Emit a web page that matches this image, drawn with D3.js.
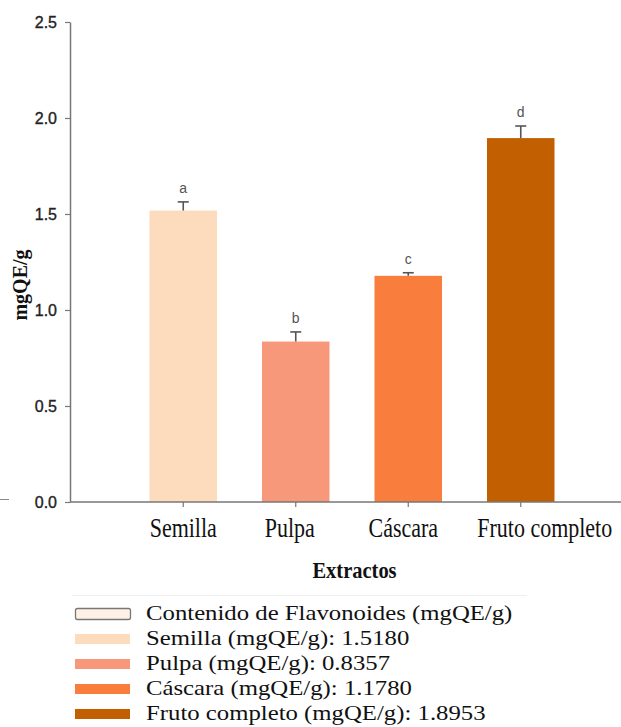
<!DOCTYPE html>
<html>
<head>
<meta charset="utf-8">
<script src="https://cdn.jsdelivr.net/npm/d3@7"></script>
<style>
  html, body { margin: 0; padding: 0; background: #fff; }
  svg { display: block; }
</style>
</head>
<body>
<div id="chart"></div>
<script>
const categories = ["Semilla", "Pulpa", "Cáscara", "Fruto completo"];
const values = [1.5180, 0.8357, 1.1780, 1.8953];
const errors = [0.045, 0.05, 0.016, 0.063];
const letters = ["a", "b", "c", "d"];
const colors = ["#FDDCBD", "#F8987B", "#F97D3C", "#C15F01"];
const yTicks = [0, 0.5, 1.0, 1.5, 2.0, 2.5];
const yLabel = "mgQE/g";
const xLabel = "Extractos";
const legendTitle = "Contenido de Flavonoides (mgQE/g)";
const legendLabels = categories.map((c, i) => `${c} (mgQE/g): ${values[i].toFixed(4)}`);

const W = 621, H = 727;
const svg = d3.select("#chart").append("svg").attr("width", W).attr("height", H);

const y = d3.scaleLinear().domain([0, 2.5]).range([502, 22]);
const x = d3.scaleBand().domain(categories).range([127, 577]).paddingInner(0.4).paddingOuter(0.2);

const data = categories.map((c, i) => ({ c, v: values[i], e: errors[i], l: letters[i], col: colors[i] }));

// stray mark at left
svg.append("line").attr("x1", 0).attr("x2", 9).attr("y1", 499.5).attr("y2", 499.5)
  .attr("stroke", "#888").attr("stroke-width", 1);

// bars
svg.append("g").selectAll("rect").data(data).join("rect")
  .attr("x", d => x(d.c)).attr("width", x.bandwidth())
  .attr("y", d => y(d.v)).attr("height", d => y(0) - y(d.v))
  .attr("fill", d => d.col);

// error bars
const eb = svg.append("g").attr("stroke", "#555").attr("stroke-width", 1.6);
data.forEach(d => {
  const cx = x(d.c) + x.bandwidth() / 2;
  eb.append("line").attr("x1", cx).attr("x2", cx).attr("y1", y(d.v)).attr("y2", y(d.v + d.e));
  eb.append("line").attr("x1", cx - 5.5).attr("x2", cx + 5.5).attr("y1", y(d.v + d.e)).attr("y2", y(d.v + d.e));
});

// letters
svg.append("g").selectAll("text").data(data).join("text")
  .attr("x", d => x(d.c) + x.bandwidth() / 2)
  .attr("y", d => y(d.v + d.e) - 9)
  .attr("text-anchor", "middle")
  .attr("font-family", "Liberation Sans, Arial, sans-serif")
  .attr("font-size", 14)
  .attr("fill", "#555")
  .text(d => d.l);

// y axis
const yAxis = svg.append("g").attr("transform", "translate(70,0)")
  .call(d3.axisLeft(y).tickValues(yTicks).tickFormat(d3.format(".1f")).tickSize(5).tickSizeOuter(0).tickPadding(8));
yAxis.select(".domain").attr("stroke", "#777").attr("stroke-width", 1.5);
yAxis.selectAll(".tick line").attr("stroke", "#777").attr("stroke-width", 1.2);
yAxis.selectAll(".tick text")
  .style("font-family", "Liberation Sans, Arial, sans-serif")
  .style("font-size", "16px")
  .attr("fill", "#222").attr("stroke", "#222").attr("stroke-width", 0.35);

// x axis
svg.append("line").attr("x1", 70).attr("x2", W).attr("y1", 502).attr("y2", 502)
  .attr("stroke", "#777").attr("stroke-width", 1.5);
const xAxis = svg.append("g").attr("transform", "translate(0,502)")
  .call(d3.axisBottom(x).tickSize(5).tickSizeOuter(0).tickFormat(""));
xAxis.select(".domain").remove();
xAxis.selectAll(".tick line").attr("stroke", "#777").attr("stroke-width", 1.2);

// x category labels (nudged as in the original figure)
const labelDx = [0, -6, -5, 24];
svg.append("g").selectAll("text").data(categories).join("text")
  .attr("transform", (d, i) => `translate(${x(d) + x.bandwidth() / 2 + labelDx[i]},537) scale(1,1.2)`)
  .attr("text-anchor", "middle")
  .attr("font-family", "Liberation Serif, Times New Roman, serif")
  .attr("font-size", 22)
  .attr("fill", "#111")
  .text(d => d);

// x title
svg.append("text")
  .attr("transform", "translate(354.5,578) scale(1,1.15)")
  .attr("text-anchor", "middle")
  .attr("font-family", "Liberation Serif, Times New Roman, serif")
  .attr("font-weight", "bold")
  .attr("font-size", 20.5)
  .attr("fill", "#111")
  .text(xLabel);

// y title
svg.append("text")
  .attr("transform", "translate(27,285) rotate(-90)")
  .attr("text-anchor", "middle")
  .attr("font-family", "Liberation Serif, Times New Roman, serif")
  .attr("font-weight", "bold")
  .attr("font-size", 20)
  .attr("fill", "#111")
  .text(yLabel);

// legend
svg.append("line").attr("x1", 72).attr("x2", 527).attr("y1", 595.5).attr("y2", 595.5)
  .attr("stroke", "#eee").attr("stroke-width", 1);

const legendItems = [{ t: legendTitle, col: "#FDF0E4", outline: true }]
  .concat(legendLabels.map((t, i) => ({ t, col: colors[i], outline: false })));
const lg = svg.append("g");
legendItems.forEach((d, i) => {
  const cy = 614 + i * 25;
  lg.append("rect")
    .attr("x", d.outline ? 75.5 : 75).attr("y", d.outline ? cy - 5.5 : cy - 5)
    .attr("width", 55).attr("height", d.outline ? 11 : 10)
    .attr("rx", d.outline ? 2 : 0)
    .attr("fill", d.col)
    .attr("stroke", d.outline ? "#777" : "none")
    .attr("stroke-width", d.outline ? 1.3 : 0);
  lg.append("text")
    .attr("transform", `translate(146,${cy + 6}) scale(1.27,1.03)`)
    .attr("font-family", "Liberation Serif, Times New Roman, serif")
    .attr("font-size", 19.5)
    .attr("fill", "#111")
    .text(d.t);
});
</script>
</body>
</html>
